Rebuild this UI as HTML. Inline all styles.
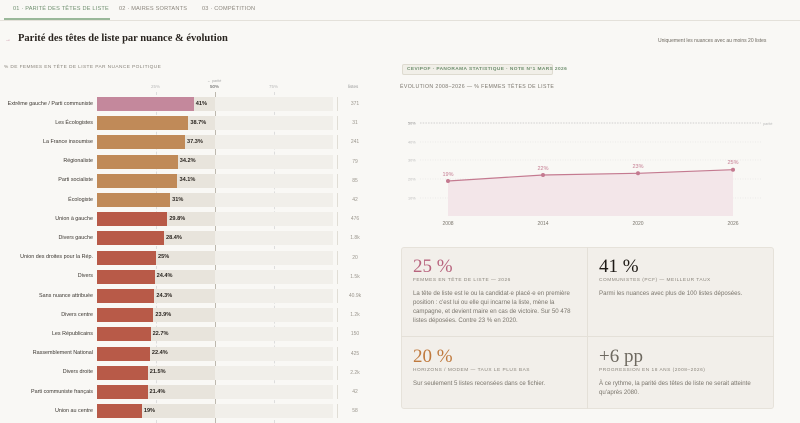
<!DOCTYPE html>
<html><head><meta charset="utf-8"><style>
*{margin:0;padding:0;box-sizing:border-box}
body{width:800px;height:423px;overflow:hidden;background:#f9f8f5;font-family:"Liberation Sans",sans-serif;color:#2a2520;position:relative}
.a{position:absolute;white-space:nowrap}
.tab{font-size:5.6px;letter-spacing:.2px;color:#8a857c;top:6px}
.lab{font-size:5.4px;color:#3a352f;text-align:right;width:90px;left:3px}
.trk{left:97px;width:236px;height:14px;background:#f1efea}
.trk2{left:97px;width:118px;height:14px;background:#e8e4dc}
.bar{left:97px;height:14px}
.val{font-size:5.6px;font-weight:bold;color:#2a2520}
.cnt{font-size:5px;color:#9a958c;left:340px;width:30px;text-align:center}
.big{font-family:"Liberation Serif",serif;font-size:19px}
.cl{font-size:4.8px;letter-spacing:.5px;color:#8a857c}
.body{font-size:6.1px;line-height:9px;color:#7a756c;white-space:normal;width:165px}
</style></head><body>
<div class="a" style="left:0;top:20px;width:800px;height:1px;background:#e4e1da"></div>
<div class="a" style="left:4px;top:18px;width:106px;height:2px;background:#9ab89a"></div>
<div class="a tab" style="left:13px;color:#6e8f6e">01 · PARITÉ DES TÊTES DE LISTE</div>
<div class="a tab" style="left:119px">02 · MAIRES SORTANTS</div>
<div class="a tab" style="left:202px">03 · COMPÉTITION</div>
<div class="a" style="left:5px;top:37px;font-size:6px;color:#c4889c">→</div>
<div class="a" style="left:18px;top:33px;font-family:'Liberation Serif',serif;font-weight:bold;font-size:10.5px">Parité des têtes de liste par nuance &amp; évolution</div>
<div class="a" style="left:658px;top:38px;font-size:5px;color:#6e6960">Uniquement les nuances avec au moins 20 listes</div>
<div class="a" style="left:4px;top:65px;font-size:4.8px;letter-spacing:.4px;color:#8a857c">% DE FEMMES EN TÊTE DE LISTE PAR NUANCE POLITIQUE</div>
<div class="a" style="left:207px;top:79px;font-size:3.8px;color:#aaa">← parité</div>
<div class="a" style="left:151px;top:84px;font-size:4.5px;color:#bbb">25%</div>
<div class="a" style="left:210px;top:84px;font-size:4.5px;color:#555">50%</div>
<div class="a" style="left:269px;top:84px;font-size:4.5px;color:#bbb">75%</div>
<div class="a" style="left:348px;top:84px;font-size:4.5px;color:#999">listes</div>
<div class="a" style="left:215px;top:92px;width:1px;height:331px;background:#bdb8ae"></div>
<div class="a" style="left:156px;top:92px;width:0;height:331px;border-left:1px dashed #ddd"></div>
<div class="a" style="left:274px;top:92px;width:0;height:331px;border-left:1px dashed #ddd"></div>
<div id="rows"></div>
<div class="a" style="left:402px;top:64px;width:151px;height:11px;border:1px solid #dedbd0;background:#f1efe8;border-radius:2px;font-size:4.8px;font-weight:bold;letter-spacing:.4px;color:#6e8f6e;padding:2px 4px">CEVIPOF · PANORAMA STATISTIQUE · NOTE N°1 MARS 2026</div>
<div class="a" style="left:400px;top:84px;font-size:5.2px;letter-spacing:.4px;color:#7a756c">ÉVOLUTION 2008–2026 — % FEMMES TÊTES DE LISTE</div>
<svg class="a" style="left:400px;top:100px" width="400" height="135">
<g font-family="Liberation Sans" font-size="3.8" fill="#bbb">
<line x1="20" y1="23" x2="361" y2="23" stroke="#aaa" stroke-width=".6" stroke-dasharray="1.5 1.2"/>
<text x="8" y="24.5" fill="#888">50%</text><text x="363" y="25">parité</text>
<line x1="20" y1="42" x2="361" y2="42" stroke="#ddd" stroke-width=".5" stroke-dasharray="1 1.5"/><text x="8" y="43.5">40%</text>
<line x1="20" y1="60" x2="361" y2="60" stroke="#ddd" stroke-width=".5" stroke-dasharray="1 1.5"/><text x="8" y="61.5">30%</text>
<line x1="20" y1="79" x2="361" y2="79" stroke="#ddd" stroke-width=".5" stroke-dasharray="1 1.5"/><text x="8" y="80.5">20%</text>
<line x1="20" y1="98" x2="361" y2="98" stroke="#ddd" stroke-width=".5" stroke-dasharray="1 1.5"/><text x="8" y="99.5">10%</text>
</g>
<path d="M48 81 L143 75 L238 73.3 L333 69.7 L333 116 L48 116Z" fill="#f3e6e9"/>
<path d="M48 81 L143 75 L238 73.3 L333 69.7" fill="none" stroke="#c47a90" stroke-width="1.2"/>
<g fill="#c47a90"><circle cx="48" cy="81" r="2"/><circle cx="143" cy="75" r="2"/><circle cx="238" cy="73.3" r="2"/><circle cx="333" cy="69.7" r="2"/></g>
<g font-family="Liberation Sans" font-size="5.5" fill="#c47a90" text-anchor="middle">
<text x="48" y="76">19%</text><text x="143" y="70">22%</text><text x="238" y="68">23%</text><text x="333" y="64">25%</text></g>
<g font-family="Liberation Sans" font-size="5" fill="#7a756c" text-anchor="middle">
<text x="48" y="125">2008</text><text x="143" y="125">2014</text><text x="238" y="125">2020</text><text x="333" y="125">2026</text></g>
</svg>
<div class="a" style="left:401px;top:247px;width:373px;height:162px;background:#f2efea;border:1px solid #e6e2da;border-radius:3px"></div>
<div class="a" style="left:587px;top:247px;width:1px;height:162px;background:#e4e0d8"></div>
<div class="a" style="left:401px;top:336px;width:373px;height:1px;background:#e4e0d8"></div>
<div class="a big" style="left:413px;top:256px;color:#b8647e">25 %</div>
<div class="a cl" style="left:413px;top:278px">FEMMES EN TÊTE DE LISTE — 2026</div>
<div class="a body" style="left:413px;top:289px">La tête de liste est le ou la candidat·e placé·e en première position : c'est lui ou elle qui incarne la liste, mène la campagne, et devient maire en cas de victoire. Sur 50 478 listes déposées. Contre 23 % en 2020.</div>
<div class="a big" style="left:599px;top:256px;color:#1e1a16">41 %</div>
<div class="a cl" style="left:599px;top:278px">COMMUNISTES (PCF) — MEILLEUR TAUX</div>
<div class="a body" style="left:599px;top:289px;width:175px">Parmi les nuances avec plus de 100 listes déposées.</div>
<div class="a big" style="left:413px;top:346px;color:#c07a3e">20 %</div>
<div class="a cl" style="left:413px;top:368px">HORIZONS / MODEM — TAUX LE PLUS BAS</div>
<div class="a body" style="left:413px;top:379px">Sur seulement 5 listes recensées dans ce fichier.</div>
<div class="a big" style="left:599px;top:346px;color:#6e6960">+6 pp</div>
<div class="a cl" style="left:599px;top:368px">PROGRESSION EN 18 ANS (2008–2026)</div>
<div class="a body" style="left:599px;top:379px;width:170px">À ce rythme, la parité des têtes de liste ne serait atteinte qu'après 2080.</div>
<script>
var d=[["Extrême gauche / Parti communiste",41,"41%","371","#c4889c"],["Les Écologistes",38.7,"38.7%","31","#c08a58"],["La France insoumise",37.3,"37.3%","241","#c08a58"],["Régionaliste",34.2,"34.2%","79","#c08a58"],["Parti socialiste",34.1,"34.1%","85","#c08a58"],["Écologiste",31,"31%","42","#c08a58"],["Union à gauche",29.8,"29.8%","476","#b85a48"],["Divers gauche",28.4,"28.4%","1.8k","#b85a48"],["Union des droites pour la Rép.",25,"25%","20","#b85a48"],["Divers",24.4,"24.4%","1.5k","#b85a48"],["Sans nuance attribuée",24.3,"24.3%","40.9k","#b85a48"],["Divers centre",23.9,"23.9%","1.2k","#b85a48"],["Les Républicains",22.7,"22.7%","150","#b85a48"],["Rassemblement National",22.4,"22.4%","425","#b85a48"],["Divers droite",21.5,"21.5%","2.2k","#b85a48"],["Parti communiste français",21.4,"21.4%","42","#b85a48"],["Union au centre",19,"19%","58","#b85a48"]];
var h="";d.forEach(function(r,i){var c=104+i*19.2,t=c-7,w=r[1]*2.36;
h+='<div class="a lab" style="top:'+(c-3.5)+'px">'+r[0]+'</div><div class="a trk" style="top:'+t+'px"></div><div class="a trk2" style="top:'+t+'px"></div><div class="a bar" style="top:'+t+'px;width:'+w+'px;background:'+r[4]+'"></div><div class="a val" style="top:'+(c-3.5)+'px;left:'+(97+w+2)+'px">'+r[2]+'</div><div class="a" style="left:337px;top:'+t+'px;width:1px;height:14px;background:#e0ddd5"></div><div class="a cnt" style="top:'+(c-3)+'px">'+r[3]+'</div>';});
document.getElementById("rows").innerHTML=h;
</script>
</body></html>
